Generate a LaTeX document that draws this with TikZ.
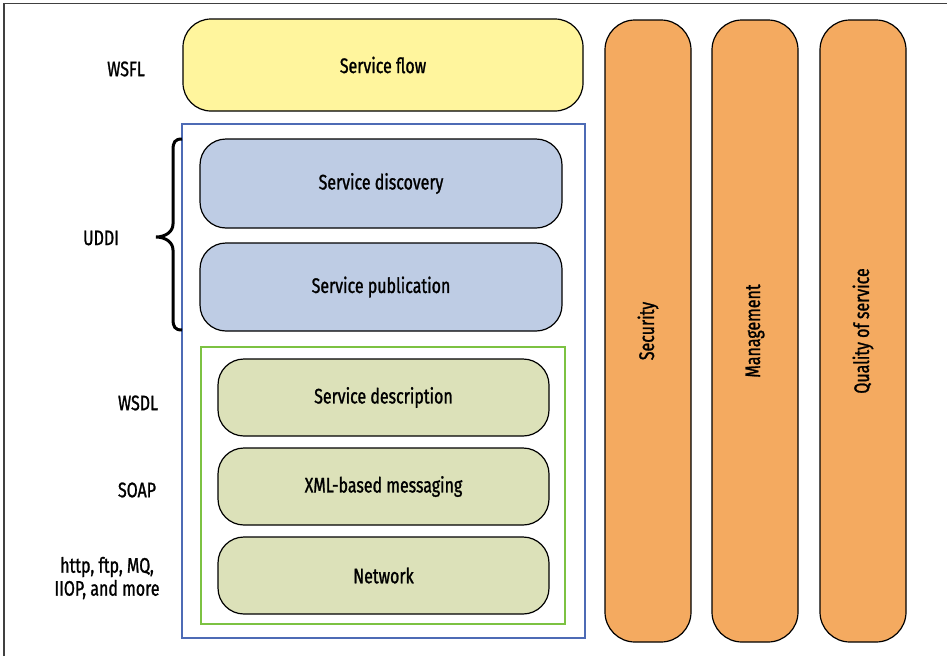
\documentclass[tikz,border=0pt]{standalone}
\usepackage{fontspec}
\setmainfont[FakeStretch=0.76,FakeBold=1.2]{Fira Sans}
\usepackage{tikz}
\definecolor{flowyellow}{RGB}{255,245,157}
\definecolor{uddiblue}{RGB}{190,204,228}
\definecolor{wsgreen}{RGB}{220,225,185}
\definecolor{barorange}{RGB}{244,170,96}
\definecolor{frameblue}{RGB}{77,107,181}
\definecolor{framegreen}{RGB}{124,194,66}
\tikzset{
  layer/.style={draw=black,line width=1.2pt,rounded corners=26pt,inner sep=0pt},
  bar/.style={layer,fill=barorange,rounded corners=30pt,minimum width=86pt,minimum height=622pt},
  tag/.style={align=center,inner sep=0pt}
}

\begin{document}
\begin{tikzpicture}[x=1pt,y=-1pt,font=\fontsize{21}{23}\selectfont]
\useasboundingbox (0,0) rectangle (947,656);
\draw[black!75,line width=1.3pt] (4,656) -- (4,3.5) -- (947,3.5);

\node[layer,fill=flowyellow,rounded corners=28pt,minimum width=400pt,minimum height=92pt] (flow) at (383,65) {Service flow};
\node[draw=frameblue,line width=1.1pt,minimum width=403pt,minimum height=514pt,inner sep=0pt] (uddibox) at (383.5,381) {};
\node[layer,fill=uddiblue,minimum width=362pt,minimum height=89pt] (disc) at (381,183.5) {Service discovery};
\node[layer,fill=uddiblue,minimum width=362pt,minimum height=88pt] (publ) at (381,287) {Service publication};
\node[draw=framegreen,line width=1.3pt,minimum width=364pt,minimum height=277pt,inner sep=0pt] (wsbox) at (383,485.5) {};
\foreach \y/\name/\txt in {397.5/desc/Service description,486.5/xml/XML-based messaging,575.5/net/Network} {
  \node[layer,fill=wsgreen,minimum width=331pt,minimum height=77pt] (\name) at (383.5,\y) {\txt};
}

\node[bar] (sec) at (648,331) {};
\node[bar] (mgmt) at (755,331) {};
\node[bar] (qos) at (863,331) {};
\node[rotate=90] at (sec) {Security};
\node[rotate=90] at (mgmt) {Management};
\node[rotate=90] at (qos) {Quality of service};

\node[tag] (wsfl) at (126,69) {WSFL};
\node[tag] (uddi) at (101,238) {UDDI};
\node[tag] (wsdl) at (138,403) {WSDL};
\node[tag] (soap) at (137,490) {SOAP};
\node[tag] (proto) at (107,578) {http, ftp, MQ,\\IIOP, and more};

% brace round the two UDDI layers
\coordinate (tip) at (156,237);
\draw[line width=3pt] (182,139) .. controls (175,139) and (173,142) .. (173,150) -- (173,224)
  .. controls (173,232) and (165,237) .. (tip) .. controls (165,237) and (173,242) .. (173,250)
  -- (173,319) .. controls (173,327) and (175,330) .. (182,330);
\end{tikzpicture}
\end{document}
